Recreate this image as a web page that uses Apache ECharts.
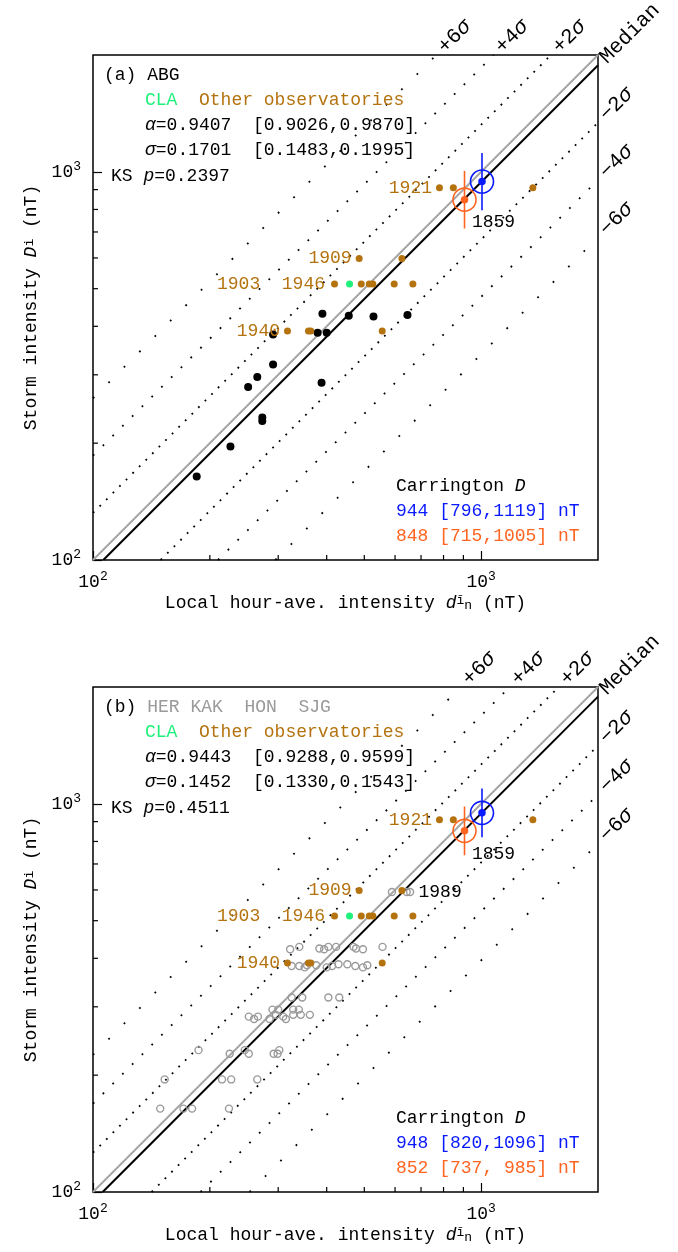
<!DOCTYPE html>
<html><head><meta charset="utf-8">
<script src="https://cdn.jsdelivr.net/npm/echarts@6/dist/echarts.min.js"></script>
<style>html,body{margin:0;padding:0;background:#fff}#c{width:678px;height:1252px}</style>
</head><body><div id="c"></div>
<script>
// ---------------- data ----------------
// Panel (a): ABG station
const abgX = [185, 226, 251, 265, 273, 273, 291, 291, 379, 400, 390, 456, 528, 646, 388];
const abgY = [164, 196, 279, 296, 233, 228, 319, 381, 385, 385, 431, 426, 424, 428, 286];
// Other observatories (both panels)
const otherX = [781, 848, 1359, 485, 625, 419, 491, 515, 526, 597, 667, 317, 359, 364, 556];
const otherY = [910, 910, 910, 598, 598, 514, 514, 514, 514, 514, 514, 389, 389, 389, 389];
const otherYear = ['1921', '', '', '1909', '', '1903  1946', '', '', '', '', '', '1940', '', '', ''];
// CLA
const claX = [458];
const claY = [514];
// Panel (b): HER KAK HON SJG
const hksX = [589, 643, 656,
  322, 340, 383, 394, 404, 423, 469, 476, 496, 557,
  325, 340, 351, 356, 376, 400, 413, 429, 452, 474, 496, 509,
  325, 346, 404, 431,
  290, 300, 328, 339,
  252, 260, 266, 285, 296, 309, 314, 328, 343, 362,
  187, 225, 246, 252, 292, 299, 302,
  153, 215, 227, 265,
  149, 171, 180, 224];
const hksY = [593, 593, 593,
  422, 428, 424, 422, 428, 428, 428, 424, 422, 428,
  382, 382, 379, 384, 384, 379, 382, 386, 386, 382, 379, 384,
  317, 317, 317, 317,
  295, 295, 295, 295,
  283, 279, 283, 279, 286, 283, 279, 286, 286, 286,
  232, 227, 232, 227, 227, 227, 232,
  195, 195, 195, 195,
  164, 164, 164, 164];
const hksLabelIndex = 2; // "1989"
// Fit parameters
const alphaA = 0.9407, alphaCIA = [0.9026, 0.9870];
const sigmaA = 0.1701, sigmaCIA = [0.1483, 0.1995];
const ksA = 0.2397;
const alphaB = 0.9443, alphaCIB = [0.9288, 0.9599];
const sigmaB = 0.1452, sigmaCIB = [0.1330, 0.1543];
const ksB = 0.4511;
// Carrington estimates: [blue, orange]
const carrX = [1005, 906];
const carrDA = [944, 848], carrLoA = [796, 715], carrHiA = [1119, 1005];
const carrDB = [948, 852], carrLoB = [820, 737], carrHiB = [1096, 985];
// Sigma lines
const sigmaK = [6, 4, 2, 0, -2, -4, -6];
const sigmaLabel = ['+6{i|σ}', '+4{i|σ}', '+2{i|σ}', 'Median', '−2{i|σ}', '−4{i|σ}', '−6{i|σ}'];
const minorTicks = [200, 300, 400, 500, 600, 700, 800, 900];

// ---------------- styling ----------------
const FONT = "'Liberation Mono', monospace";
const FS = 18;
const BROWN = '#b5730f', GREEN = '#1ef07a', ORANGE = '#ff6420', BLUE = '#0a1aff', GRAY = '#9a9a9a';
const GRID_TOP = [55, 687];
const dashFor = {2: [1.8, 7.5], 4: [1.8, 12], 6: [1.8, 20]};
const rich = {
  i: {fontStyle: 'italic', fontFamily: FONT, fontSize: FS},
  g: {fill: GREEN, color: GREEN, fontFamily: FONT, fontSize: FS},
  o: {fill: BROWN, color: BROWN, fontFamily: FONT, fontSize: FS},
  gr: {fill: GRAY, color: GRAY, fontFamily: FONT, fontSize: FS},
  b: {fontFamily: FONT, fontSize: FS, lineHeight: 24},
  s: {fontFamily: FONT, fontSize: 13, verticalAlign: 'top', lineHeight: 13},
  sub: {fontFamily: FONT, fontSize: 13, verticalAlign: 'bottom', lineHeight: 13}
};
const richBig = {
  i: {fontStyle: 'italic', fontFamily: FONT, fontSize: 21}
};

function lineEnds(f) {
  return f >= 1 ? [[100, 100 * f], [2000 / f, 2000]] : [[100 / f, 100], [2000, 2000 * f]];
}

const chart = echarts.init(document.getElementById('c'));
const grids = [], xAxes = [], yAxes = [], series = [];

function tickLabel(v) {
  const r = Math.round(v);
  if (r === 100) return '{b|10}{s|2}';
  if (r === 1000) return '{b|10}{s|3}';
  return '';
}

[0, 1].forEach(gi => {
  const alpha = gi === 0 ? alphaA : alphaB;
  const sigma = gi === 0 ? sigmaA : sigmaB;
  grids.push({left: 93, top: GRID_TOP[gi], width: 505, height: 505, show: true,
    borderColor: '#000', borderWidth: 1.5, backgroundColor: 'transparent'});
  xAxes.push({type: 'log', logBase: 10, gridIndex: gi, min: 100, max: 2000,
    axisLine: {show: false},
    axisTick: {show: true, inside: true, length: 9, lineStyle: {color: '#000', width: 1.2}},
    axisLabel: {formatter: tickLabel, margin: 10, color: '#000', rich: rich, showMaxLabel: false},
    splitLine: {show: false},
    name: 'Local hour-ave. intensity {i|d}{s|ī}{sub|n} (nT)', nameLocation: 'middle', nameGap: 34,
    nameTextStyle: {fontFamily: FONT, fontSize: FS, color: '#000', rich: rich}});
  yAxes.push({type: 'log', logBase: 10, gridIndex: gi, min: 100, max: 2000,
    axisLine: {show: false},
    axisTick: {show: true, inside: true, length: 9, lineStyle: {color: '#000', width: 1.2}},
    axisLabel: {formatter: tickLabel, margin: 12, color: '#000', rich: rich, showMaxLabel: false},
    splitLine: {show: false},
    name: 'Storm intensity {i|D}{s|i} (nT)', nameLocation: 'middle', nameGap: 52,
    nameTextStyle: {fontFamily: FONT, fontSize: FS, color: '#000', rich: rich}});

  const ax = {xAxisIndex: gi, yAxisIndex: gi};
  // minor ticks drawn through the axis scales
  series.push(Object.assign({type: 'custom', silent: true, z: 5,
    data: minorTicks.map(v => [v, v]),
    renderItem: (params, api) => {
      const v = api.value(0);
      const pb = api.coord([v, 100]);
      const pl = api.coord([100, v]);
      return {type: 'group', children: [
        {type: 'line', shape: {x1: pb[0], y1: pb[1], x2: pb[0], y2: pb[1] - 5}, style: {stroke: '#000', lineWidth: 1.2}},
        {type: 'line', shape: {x1: pl[0], y1: pl[1], x2: pl[0] + 5, y2: pl[1]}, style: {stroke: '#000', lineWidth: 1.2}}
      ]};
    }}, ax));
  // 1:1 line
  series.push(Object.assign({type: 'line', silent: true, symbol: 'none', z: 2,
    data: lineEnds(1), lineStyle: {color: '#a6a6a6', width: 2}}, ax));
  // median and sigma lines
  sigmaK.forEach(k => {
    const f = alpha * Math.exp(k * sigma);
    series.push(Object.assign({type: 'line', silent: true, symbol: 'none', z: 2,
      data: lineEnds(f),
      lineStyle: k === 0 ? {color: '#000', width: 2} : {color: '#000', width: 1.8, type: dashFor[Math.abs(k)]}}, ax));
  });
  // station points
  if (gi === 0) {
    series.push(Object.assign({type: 'scatter', symbol: 'circle', symbolSize: 8, z: 6,
      itemStyle: {color: '#000', opacity: 1}, data: abgX.map((x, i) => [x, abgY[i]])}, ax));
  } else {
    series.push(Object.assign({type: 'scatter', symbol: 'circle', symbolSize: 7, z: 6,
      itemStyle: {color: 'rgba(255,255,255,0)', borderColor: GRAY, borderWidth: 1.4, opacity: 1},
      data: hksX.map((x, i) => i === hksLabelIndex ? {value: [x, hksY[i]],
        label: {show: true, formatter: '1989', position: 'inside', offset: [30, 0],
          color: '#000', fontFamily: FONT, fontSize: FS}} : [x, hksY[i]])}, ax));
  }
  series.push(Object.assign({type: 'scatter', symbol: 'circle', symbolSize: 7, z: 7,
    itemStyle: {color: BROWN, opacity: 1},
    data: otherX.map((x, i) => otherYear[i] ? {value: [x, otherY[i]],
      label: {show: true, formatter: otherYear[i], position: 'left', distance: otherYear[i].length > 4 ? 6 : 4,
        color: BROWN, fontFamily: FONT, fontSize: FS}} : [x, otherY[i]])}, ax));
  series.push(Object.assign({type: 'scatter', symbol: 'circle', symbolSize: 7, z: 7,
    itemStyle: {color: GREEN, opacity: 1}, data: claX.map((x, i) => [x, claY[i]])}, ax));
  // Carrington
  const cD = gi === 0 ? carrDA : carrDB, cLo = gi === 0 ? carrLoA : carrLoB, cHi = gi === 0 ? carrHiA : carrHiB;
  [0, 1].forEach(j => {
    const col = j === 0 ? BLUE : ORANGE;
    series.push(Object.assign({type: 'line', silent: true, symbol: 'none', z: 8,
      data: [[carrX[j], cLo[j]], [carrX[j], cHi[j]]], lineStyle: {color: col, width: 1.6}}, ax));
    series.push(Object.assign({type: 'scatter', symbol: 'circle', symbolSize: 23, z: 9,
      itemStyle: {color: 'rgba(255,255,255,0)', borderColor: col, borderWidth: 1.6, opacity: 1},
      data: [[carrX[j], cD[j]]]}, ax));
    series.push(Object.assign({type: 'scatter', symbol: 'circle', symbolSize: 7.5, z: 10,
      itemStyle: {color: col, opacity: 1},
      data: [j === 1 ? {value: [carrX[j], cD[j]], label: {show: true, formatter: '1859', position: 'inside',
        offset: [29, 23], color: '#000', fontFamily: FONT, fontSize: FS}} : [carrX[j], cD[j]]]}, ax));
  });
});

chart.setOption({animation: false, backgroundColor: '#fff',
  grid: grids, xAxis: xAxes, yAxis: yAxes, series: series});

// ---------------- text annotations ----------------
function txt(x, y, text, fill, extra, size, rs) {
  return Object.assign({type: 'text', x: x, y: y, z: 100,
    style: {text: text, fill: fill || '#000', fontFamily: FONT, fontSize: size || FS, rich: rs || rich,
      align: 'left', verticalAlign: 'middle'}}, extra || {});
}
const g = [];
[0, 1].forEach(gi => {
  const dy = GRID_TOP[gi] - GRID_TOP[0];
  const alpha = gi === 0 ? alphaA : alphaB, aCI = gi === 0 ? alphaCIA : alphaCIB;
  const sigma = gi === 0 ? sigmaA : sigmaB, sCI = gi === 0 ? sigmaCIA : sigmaCIB;
  const ks = gi === 0 ? ksA : ksB;
  const cD = gi === 0 ? carrDA : carrDB, cLo = gi === 0 ? carrLoA : carrLoB, cHi = gi === 0 ? carrHiA : carrHiB;
  g.push(txt(104, 75 + dy, gi === 0 ? '(a) ABG' : '(b) {gr|HER KAK  HON  SJG}'));
  g.push(txt(145, 100 + dy, '{g|CLA}  {o|Other observatories}'));
  g.push(txt(145, 125 + dy, '{i|α}=' + alpha.toFixed(4) + '  [' + aCI[0].toFixed(4) + ',' + aCI[1].toFixed(4) + ']'));
  g.push(txt(145, 150 + dy, '{i|σ}=' + sigma.toFixed(4) + '  [' + sCI[0].toFixed(4) + ',' + sCI[1].toFixed(4) + ']'));
  g.push(txt(111, 176 + dy, 'KS {i|p}=' + ks.toFixed(4)));
  g.push(txt(396, 486 + dy, 'Carrington {i|D}'));
  g.push(txt(396, 511 + dy, cD[0] + ' [' + cLo[0] + ',' + cHi[0] + '] nT', BLUE));
  g.push(txt(396, 536 + dy, cD[1] + ' [' + cLo[1] + ',' + (String(cHi[1]).length === 3 ? ' ' : '') + cHi[1] + '] nT', ORANGE));
  // sigma line labels at the line ends
  sigmaK.forEach((k, idx) => {
    const f = alpha * Math.exp(k * sigma);
    const end = lineEnds(f)[1];
    const p = chart.convertToPixel({gridIndex: gi}, end);
    g.push(txt(p[0] + 5, p[1] - 5, sigmaLabel[idx], '#000', {rotation: Math.PI / 4}, 21, richBig));
  });
});
chart.setOption({graphic: g});
</script></body></html>
